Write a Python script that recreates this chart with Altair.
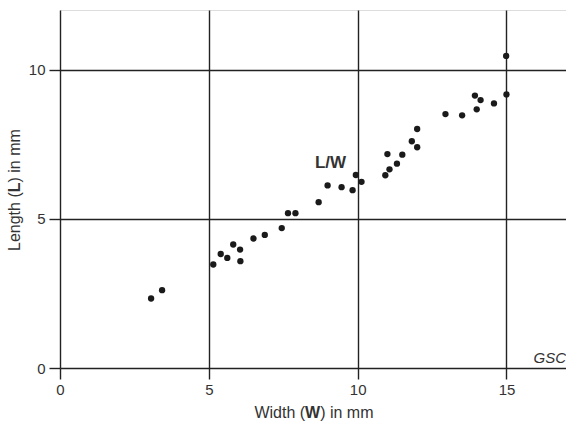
import altair as alt
import pandas as pd

# Data
width_mm = [3.06, 3.43, 5.15, 5.40, 5.62, 5.82, 6.05, 6.06, 6.50, 6.88, 7.45, 7.66, 7.91,
            8.69, 8.99, 9.46, 9.83, 9.94, 10.13, 10.93, 11.07, 11.00, 11.32, 11.50, 11.82,
            12.00, 12.00, 12.95, 13.51, 13.94, 14.13, 14.00, 14.58, 14.99, 15.00]
length_mm = [2.33, 2.61, 3.47, 3.82, 3.69, 4.14, 3.97, 3.58, 4.34, 4.46, 4.69, 5.19, 5.19,
             5.56, 6.12, 6.06, 5.96, 6.47, 6.24, 6.46, 6.66, 7.17, 6.85, 7.15, 7.60,
             7.40, 8.01, 8.51, 8.47, 9.13, 8.98, 8.67, 8.87, 10.46, 9.17]
x_ticks = [0, 5, 10, 15]
y_ticks = [0, 5, 10]
label_text = ["L/W"]
label_x = [9.09]
label_y = [6.87]

FONT = "Liberation Sans"
INK = "#222222"
TXT = "#333333"

df = pd.DataFrame({"W": width_mm, "L": length_mm})
lab = pd.DataFrame({"W": label_x, "L": label_y, "t": label_text})
one = pd.DataFrame({"a": [0]})

xs = alt.Scale(domain=[0, 17], nice=False, zero=False)
ys = alt.Scale(domain=[0, 12], nice=False, zero=False)

axis_common = dict(grid=True, gridColor=INK, gridWidth=1.4, gridOpacity=1,
                   domain=False, ticks=True, tickSize=11, tickColor=INK, tickWidth=1.4,
                   labelFont=FONT, labelFontSize=15, labelColor=TXT, title=None,
                   labelFlush=False, labelOverlap=False)

points = alt.Chart(df).mark_circle(size=40, color="#1a1a1a", opacity=1).encode(
    x=alt.X("W:Q", scale=xs, axis=alt.Axis(values=x_ticks, labelPadding=3, **axis_common)),
    y=alt.Y("L:Q", scale=ys, axis=alt.Axis(values=y_ticks, labelPadding=4, **axis_common)),
)

lw = alt.Chart(lab).mark_text(font=FONT, fontSize=17, fontWeight="bold", color=TXT,
                              align="center", baseline="middle").encode(
    x=alt.X("W:Q", scale=xs), y=alt.Y("L:Q", scale=ys), text="t:N")


def txt(s, x, y, weight="normal", angle=0, align="left", baseline="middle", style="normal", size=16):
    kw = dict(font=FONT, fontSize=size, fontWeight=weight, color=TXT, align=align,
              baseline=baseline, fontStyle=style)
    if angle:
        kw["angle"] = angle
    return alt.Chart(one).mark_text(**kw).encode(
        x=alt.value(x), y=alt.value(y), text=alt.value(s))


# x title "Width (W) in mm" with bold W
xt = [txt("Width (", 194.4, 403), txt("W", 245.1, 403, weight="bold"),
      txt(") in mm", 260.2, 403)]
# y title "Length (L) in mm" with bold L (rotated)
yt = [txt("Length (", -45, 241, angle=270), txt("L", -45, 182.3, weight="bold", angle=270),
      txt(") in mm", -45, 172.5, angle=270)]
gsc = txt("GSC", 506, 353, align="right", baseline="alphabetic", style="italic", size=15)

chart = alt.layer(points, lw, *xt, *yt, gsc).properties(
    width=506, height=358,
    autosize=alt.AutoSizeParams(type="none"),
    padding={"left": 60, "top": 10, "right": 0, "bottom": 56},
).configure_view(stroke=None).configure(background="white")

chart.save("out.html", embed_options={"renderer": "svg", "actions": False})
